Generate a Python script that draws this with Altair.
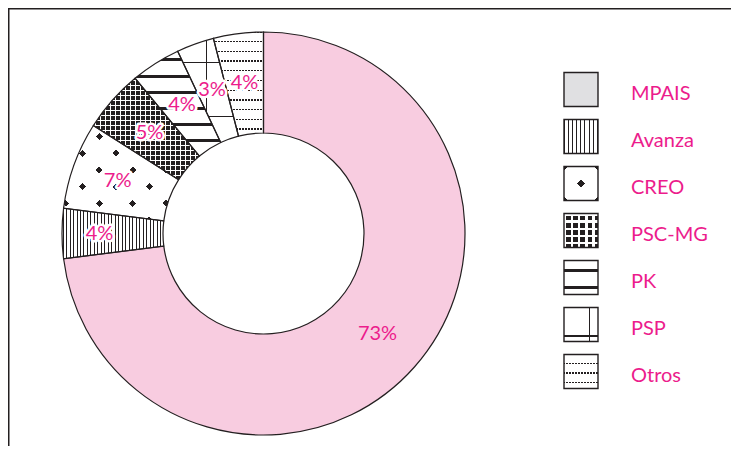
import math
import altair as alt
import pandas as pd

# ---------------- data ----------------
parties = ["MPAIS", "Avanza", "CREO", "PSC-MG", "PK", "PSP", "Otros"]
shares = [73, 4, 7, 5, 4, 3, 4]
labels = ["73%", "4%", "7%", "5%", "4%", "3%", "4%"]

# ---------------- style ----------------
MAGENTA = "#EC1C8C"
PINK = "#F8CCE0"
LEGEND_GRAY = "#E0E0E2"
INK = "#231F20"
WHITE = "#FFFFFF"
TRANSP = "rgba(0,0,0,0)"
FONT = "Lato"

PAGE_OFF = 8
CANVAS_W, CANVAS_H = 723, 438
CX, CY = 263.5, 233.5          # donut centre on the page
R_OUT, R_IN = 201.5, 100.5

starts, ends, acc = [], [], 0
for v in shares:
    starts.append(acc)
    acc += v
    ends.append(acc)
mids = [(s + e) / 2 for s, e in zip(starts, ends)]

df = pd.DataFrame({"party": parties, "share": shares, "label": labels,
                   "start": starts, "end": ends, "mid": mids})


def pt(r, deg):
    a = math.radians(deg)
    return CX + r * math.sin(a), CY - r * math.cos(a)


def sector_bbox(s, e):
    a0, a1 = s * 3.6, e * 3.6
    pts = [pt(R_OUT, a0), pt(R_OUT, a1), pt(R_IN, a0), pt(R_IN, a1)]
    for c in (0, 90, 180, 270, 360):
        if a0 < c < a1:
            pts.append(pt(R_OUT, c))
    xs = [p[0] for p in pts]
    ys = [p[1] for p in pts]
    return min(xs), min(ys), max(xs), max(ys)


def stripes(bbox, angle_deg, period, width, phase, on, off):
    """Linear gradient with hard stops producing stripes in page space."""
    nx, ny = math.cos(math.radians(angle_deg)), math.sin(math.radians(angle_deg))
    x0, y0, x1, y1 = bbox
    W, H = x1 - x0, y1 - y0
    cs = [nx * x + ny * y for x in (x0, x1) for y in (y0, y1)]
    cmin, cmax = min(cs), max(cs)
    L = cmax - cmin
    gx, gy = nx * W / L, ny * H / L
    g2 = gx * gx + gy * gy
    k = (nx * x0 + ny * y0 - cmin) / L
    p1x, p1y = -k * gx / g2, -k * gy / g2
    p2x, p2y = p1x + gx / g2, p1y + gy / g2
    stops = [(0.0, off)]
    m = math.floor((cmin - phase - width) / period)
    while True:
        c = phase + m * period
        a, b = c - width / 2, c + width / 2
        if a > cmax:
            break
        if b > cmin:
            ta = max(0.0, (a - cmin) / L)
            tb = min(1.0, (b - cmin) / L)
            stops += [(ta, off), (ta, on), (tb, on), (tb, off)]
        m += 1
    stops.append((1.0, off))
    return {"gradient": "linear",
            "x1": round(p1x, 6), "y1": round(p1y, 6),
            "x2": round(p2x, 6), "y2": round(p2y, 6),
            "stops": [{"offset": round(t, 6), "color": col} for t, col in stops]}


bb = {p: sector_bbox(s, e) for p, s, e in zip(parties, starts, ends)}
S2 = math.sqrt(2)

slice_fills = {
    "MPAIS": [PINK],
    "Avanza": [stripes(bb["Avanza"], 0, 3.5, 1.0, 0, INK, WHITE)],
    "CREO": [stripes(bb["CREO"], 45, 23.6, 4.8, 190.4, INK, WHITE),
             stripes(bb["CREO"], -45, 23.6, 4.8, -50.0, TRANSP, WHITE)],
    "PSC-MG": [stripes(bb["PSC-MG"], 0, 5, 1.2, 0.5, WHITE, INK),
               stripes(bb["PSC-MG"], 90, 5, 1.2, 0.5, WHITE, TRANSP)],
    "PK": [stripes(bb["PK"], 90, 16.2, 3, 60, INK, WHITE)],
    "PSP": [stripes(bb["PSP"], 0, 40, 1, 207, INK, WHITE),
            stripes(bb["PSP"], 90, 54, 1, 63, INK, TRANSP)],
    "Otros": [stripes(bb["Otros"], 90, 9.7, 1.3, 41.7, INK, WHITE),
              stripes(bb["Otros"], 0, 3, 1.6, 0, TRANSP, WHITE)],
}

LB = (0, 0, 34, 34)
legend_fills = {
    "MPAIS": [LEGEND_GRAY],
    "Avanza": [stripes(LB, 0, 4.2, 1, 4.2, INK, WHITE)],
    "CREO": [stripes(LB, 45, 34 / S2, 5.2, 34 / S2, INK, WHITE),
             stripes(LB, -45, 34 / S2, 5.2, 0, TRANSP, WHITE)],
    "PSC-MG": [stripes(LB, 0, 7.2, 2.4, 0.8, WHITE, INK),
               stripes(LB, 90, 7.2, 2.4, 0.8, WHITE, TRANSP)],
    "PK": [stripes(LB, 90, 17, 2.5, 10, INK, WHITE)],
    "PSP": [stripes(LB, 0, 100, 1, 25.3, INK, WHITE),
            stripes(LB, 90, 100, 1.2, 28.5, INK, TRANSP)],
    "Otros": [stripes(LB, 90, 9.3, 1.3, 9.3, INK, WHITE),
              stripes(LB, 0, 3, 1.5, 0, TRANSP, WHITE)],
}

# ---------------- chart ----------------
base = alt.Chart(df)
frame_src = alt.Chart(pd.DataFrame({"k": [0]}))
theta = alt.Theta("start:Q", scale=alt.Scale(domain=[0, 100]))
theta2 = alt.Theta2("end:Q")
arc_kw = dict(x=CX - PAGE_OFF, y=CY - PAGE_OFF, radius=R_OUT, radius2=R_IN)

layers = []

# frame: only top and left edges are visible in the reference
layers.append(
    frame_src.mark_rule(color=INK, strokeWidth=1.5)
    .encode(x=alt.value(0), x2=alt.value(CANVAS_W), y=alt.value(0.75))
)
layers.append(
    frame_src.mark_rule(color=INK, strokeWidth=1.5)
    .encode(x=alt.value(0.75), y=alt.value(0), y2=alt.value(CANVAS_H))
)

for p in parties:
    for f in slice_fills[p]:
        layers.append(
            base.transform_filter(alt.datum.party == p)
            .mark_arc(fill=f, **arc_kw)
            .encode(theta=theta, theta2=theta2)
        )

# slice outlines
layers.append(
    base.mark_arc(fill=WHITE, fillOpacity=0, stroke=INK, strokeWidth=1.2, **arc_kw)
    .encode(theta=theta, theta2=theta2)
)

label_theta = alt.Theta("mid:Q", scale=alt.Scale(domain=[0, 100]))
label_r = alt.Radius("lr:Q", scale=None)
lr_expr = "datum.party == 'Avanza' ? 164 : (datum.party == 'CREO' ? 155 : 152)"
text_kw = dict(x=CX - PAGE_OFF, y=CY - PAGE_OFF, font=FONT, fontSize=20,
               align="center", baseline="middle")

layers.append(
    base.transform_filter(alt.datum.party != "MPAIS")
    .transform_calculate(lr=lr_expr)
    .mark_text(fill=WHITE, stroke=WHITE, strokeWidth=5, strokeJoin="round", **text_kw)
    .encode(theta=label_theta, radius=label_r, text="label:N")
)
layers.append(
    base.transform_calculate(lr=lr_expr)
    .mark_text(fill=MAGENTA, **text_kw)
    .encode(theta=label_theta, radius=label_r, text="label:N")
)

# legend
ly = alt.Y("party:N", scale=alt.Scale(type="point", domain=parties,
                                      range=[89.5 - PAGE_OFF, 371.5 - PAGE_OFF], padding=0),
           axis=None)
LEG_X = 581 - PAGE_OFF
for p in parties:
    for f in legend_fills[p]:
        layers.append(
            base.transform_filter(alt.datum.party == p)
            .mark_square(size=34 * 34, fill=f, opacity=1, strokeWidth=0, x=LEG_X)
            .encode(y=ly)
        )
layers.append(
    base.mark_square(size=34 * 34, fill=WHITE, fillOpacity=0, opacity=1,
                     stroke=INK, strokeWidth=1.4, x=LEG_X)
    .encode(y=ly)
)
layers.append(
    base.mark_text(x=631 - PAGE_OFF, align="left", baseline="alphabetic", dy=10,
                   font=FONT, fontSize=20, fill=MAGENTA)
    .encode(y=ly, text="party:N")
)

chart = (
    alt.layer(*layers)
    .properties(width=CANVAS_W, height=CANVAS_H, padding=0, autosize="none")
    .configure_view(strokeWidth=0)
)

chart.save("out.html", embed_options={"renderer": "svg", "actions": False})
